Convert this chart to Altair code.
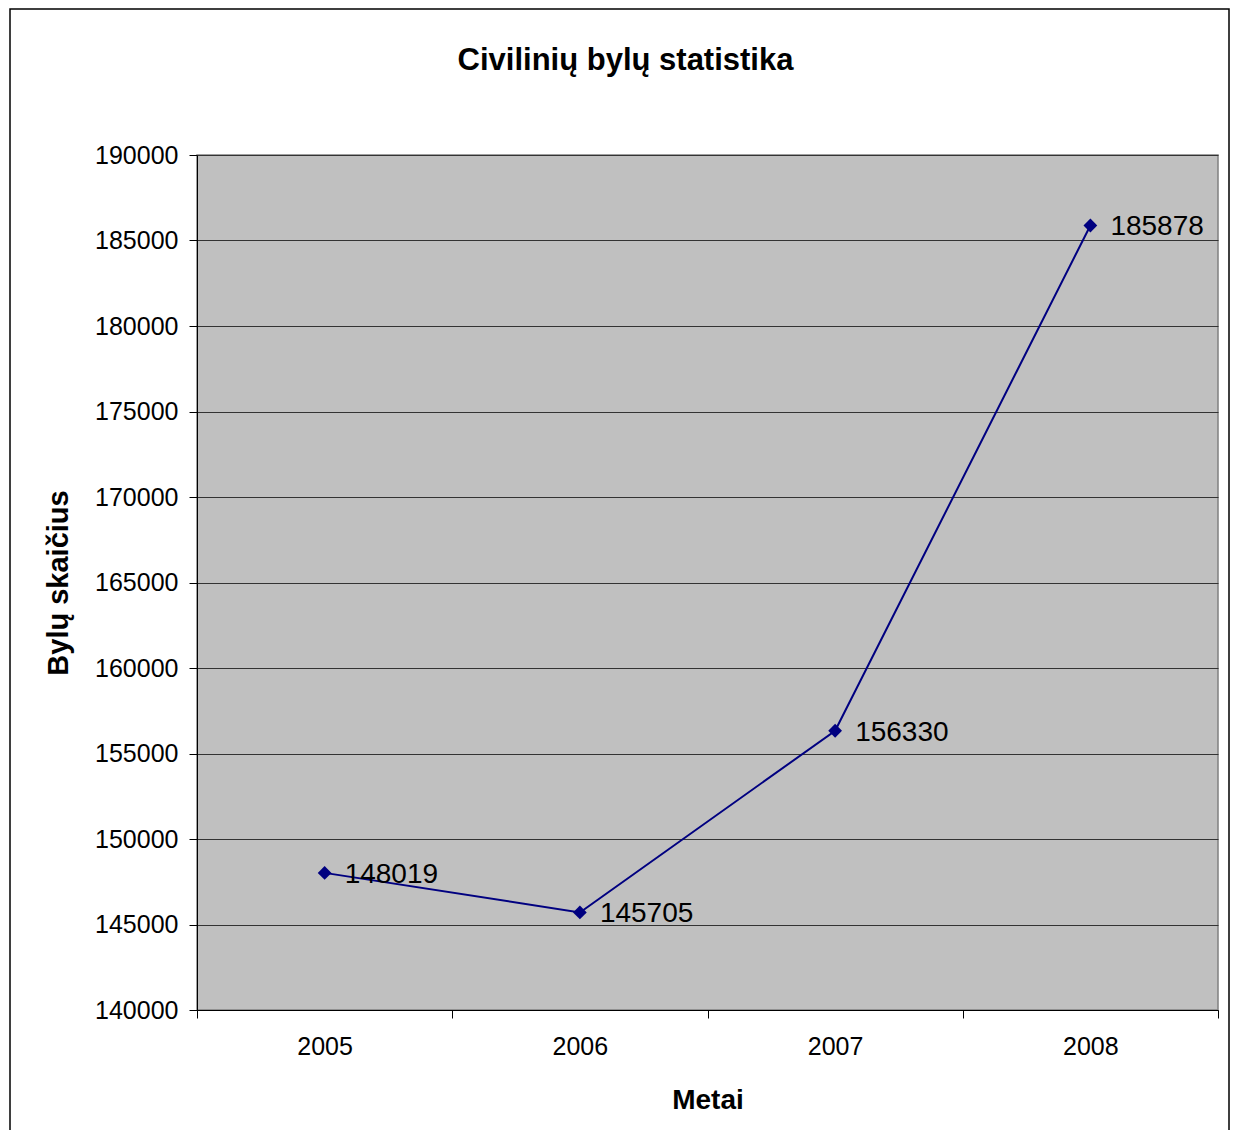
import altair as alt
import pandas as pd

years = [2005, 2006, 2007, 2008]
cases = [148019, 145705, 156330, 185878]
boundaries = [2004.5, 2005.5, 2006.5, 2007.5, 2008.5]
y_ticks = [140000, 145000, 150000, 155000, 160000, 165000, 170000, 175000, 180000, 185000, 190000]

df = pd.DataFrame({"Metai": years, "Bylos": cases})
FONT = "Liberation Sans"
W, H = 1021, 855

x_enc = alt.X(
    "Metai:Q",
    scale=alt.Scale(domain=[boundaries[0], boundaries[-1]], nice=False, zero=False),
    axis=alt.Axis(
        values=boundaries,
        labelExpr="datum.value < 2008 ? format(datum.value + 0.5, 'd') : ''",
        labelOffset=W / 8,
        labelFlush=False,
        labelOverlap=False,
        grid=False,
        ticks=True,
        tickSize=8,
        tickColor="#000000",
        domainColor="#000000",
        labelPadding=16,
        labelFontSize=25,
        labelFont=FONT,
        labelColor="#000000",
        title="Metai",
        titleFont=FONT,
        titleFontSize=28,
        titleFontWeight="bold",
        titleColor="#000000",
        titleY=90,
        titleBaseline="middle",
    ),
)
y_enc = alt.Y(
    "Bylos:Q",
    scale=alt.Scale(domain=[140000, 190000], nice=False, zero=False),
    axis=alt.Axis(
        values=y_ticks,
        format="d",
        grid=True,
        gridColor="#333333",
        gridWidth=1,
        tickSize=8,
        tickColor="#000000",
        domainColor="#000000",
        labelPadding=11,
        labelFontSize=25,
        labelFont=FONT,
        labelColor="#000000",
        title="Bylų skaičius",
        titleFont=FONT,
        titleFontSize=29,
        titleFontWeight="bold",
        titleColor="#000000",
        titleX=-139,
        titleY=H / 2,
        titleBaseline="middle",
        titleAngle=270,
    ),
)

base = alt.Chart(df)
line = base.mark_line(color="#000080", strokeWidth=2).encode(x=x_enc, y=y_enc)
points = base.mark_point(shape="diamond", filled=True, color="#000080", size=190, opacity=1).encode(
    x="Metai:Q", y="Bylos:Q"
)
labels = base.mark_text(
    align="left", baseline="middle", dx=20, dy=2, fontSize=28, font=FONT, color="#000000", clip=False
).encode(x="Metai:Q", y="Bylos:Q", text="Bylos:Q")

border = alt.Chart(pd.DataFrame({"b": [0]})).mark_rect(
    fill=None, stroke="#000000", strokeWidth=1.5, clip=False
).encode(
    x=alt.value(-187), x2=alt.value(1032), y=alt.value(-146), y2=alt.value(1010)
)

chart = (
    alt.layer(border, line, points, labels)
    .properties(
        width=W,
        height=H,
        autosize=alt.AutoSizeParams(type="none"),
        padding={"left": 189, "top": 147, "right": 12, "bottom": 120},
        background="#FFFFFF",
        title=alt.TitleParams(
            "Civilinių bylų statistika",
            font=FONT,
            fontSize=31,
            fontWeight="bold",
            color="#000000",
            anchor="middle",
            frame="group",
            dx=-82,
            offset=-69,
        ),
    )
    .configure_view(fill="#C0C0C0", stroke="#808080", strokeWidth=1.5)
)

chart.save("out.html", embed_options={"renderer": "svg", "actions": False})
